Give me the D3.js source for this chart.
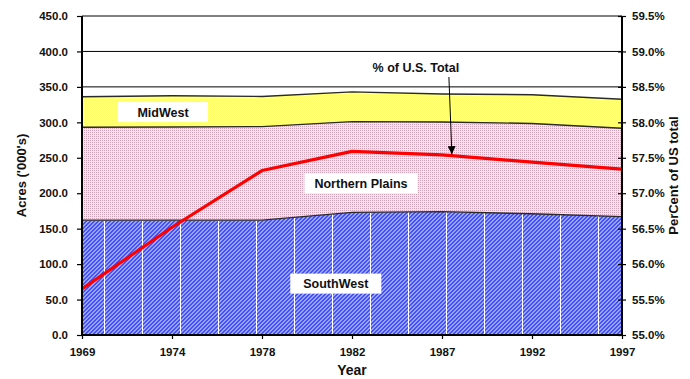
<!DOCTYPE html>
<html>
<head>
<meta charset="utf-8">
<script src="https://cdn.jsdelivr.net/npm/d3@7"></script>
<style>
  html, body { margin: 0; padding: 0; background: #fff; }
  svg { display: block; }
  text { font-family: Arial, "Liberation Sans", sans-serif; font-weight: bold; fill: #111; }
</style>
</head>
<body>
<script>
// Census years on the category axis
const years = ["1969", "1974", "1978", "1982", "1987", "1992", "1997"];
// Acres ('000's) by region, stacked bottom to top
const southWest      = [162, 162, 162, 173, 174, 171, 167];
const northernPlains = [131, 131.5, 132, 128, 126.5, 127.4, 124.6];
const midWest        = [43, 44, 42.5, 42, 39.5, 40.6, 40.9];
// Share of the U.S. total (%)
const pctOfUS = [55.65, 56.52, 57.32, 57.59, 57.54, 57.44, 57.34];
// Axis ticks
const acreTicks = [0, 50, 100, 150, 200, 250, 300, 350, 400, 450];
const pctTicks = [55.0, 55.5, 56.0, 56.5, 57.0, 57.5, 58.0, 58.5, 59.0, 59.5];

const W = 690, H = 379;
const m = { left: 82, right: 68, top: 16, bottom: 44 };
const iw = W - m.left - m.right, ih = H - m.top - m.bottom;

const svg = d3.select("body").append("svg").attr("width", W).attr("height", H);
const defs = svg.append("defs");

// Build a small pixel tile pattern: a base colour plus darker pixels
function pixelPattern(id, base, grid) {
  const h = grid.length, w = grid[0].length;
  const p = defs.append("pattern").attr("id", id).attr("patternUnits", "userSpaceOnUse")
    .attr("width", w).attr("height", h);
  p.append("rect").attr("width", w).attr("height", h).attr("fill", base);
  grid.forEach((row, yy) => row.forEach((c, xx) => {
    if (c) p.append("rect").attr("x", xx).attr("y", yy).attr("width", 1).attr("height", 1)
      .attr("fill", c).attr("shape-rendering", "crispEdges");
  }));
}
const B = "#4252f6";
pixelPattern("pBlue", "#9aa2ff", [
  [B, B, 0, 0],
  [B, 0, 0, B],
  [0, 0, B, B],
  [0, B, B, 0]
]);
const P = "#d0a4b8";
pixelPattern("pPink", "#f2e6ec", [
  [P, 0],
  [0, 0]
]);
const Y = "#ffff66";
pixelPattern("pYel", "#ffffcc", [
  [Y, 0],
  [0, Y]
]);
// Thin white vertical seams across the blue hatch
const pSeam = defs.append("pattern").attr("id", "pSeam").attr("patternUnits", "userSpaceOnUse")
  .attr("x", 98).attr("width", 38).attr("height", 10);
pSeam.append("rect").attr("x", 0).attr("width", 1).attr("height", 10).attr("fill", "#fff");

const g = svg.append("g").attr("transform", `translate(${m.left},${m.top})`);

const x = d3.scalePoint().domain(years).range([0, iw]);
const y = d3.scaleLinear().domain([0, 450]).range([ih, 0]);
const y2 = d3.scaleLinear().domain([55, 59.5]).range([ih, 0]);

// Horizontal gridlines
g.append("g").selectAll("line").data(acreTicks.filter(d => d > 0)).join("line")
  .attr("x1", 0).attr("x2", iw).attr("y1", d => y(d)).attr("y2", d => y(d))
  .attr("stroke", "#000").attr("stroke-width", 1);

// Stacked areas
const rows = years.map((yr, i) => ({ year: yr, sw: southWest[i], np: northernPlains[i], mw: midWest[i] }));
const stack = d3.stack().keys(["sw", "np", "mw"])(rows);
const area = d3.area().x(d => x(d.data.year)).y0(d => y(d[0])).y1(d => y(d[1]));
const line = d3.line().x(d => x(d.data.year)).y(d => y(d[1]));
const fills = { sw: "url(#pBlue)", np: "url(#pPink)", mw: "url(#pYel)" };

stack.forEach(s => {
  g.append("path").datum(s).attr("d", area).attr("fill", fills[s.key]);
  if (s.key === "sw") g.append("path").datum(s).attr("d", area).attr("fill", "url(#pSeam)");
});
stack.forEach(s => {
  g.append("path").datum(s).attr("d", line).attr("fill", "none")
    .attr("stroke", "#2a2a2a").attr("stroke-width", 1.4);
});

// Region labels in white boxes
function boxLabel(text, cx, cy, w) {
  g.append("rect").attr("x", cx - w / 2).attr("y", cy - 10).attr("width", w).attr("height", 20).attr("fill", "#fff");
  g.append("text").attr("x", cx).attr("y", cy + 4.5).attr("text-anchor", "middle")
    .attr("font-size", 12.5).text(text);
}
const xBetween = (a, b2, t) => x(years[a]) + (x(years[b2]) - x(years[a])) * t;
boxLabel("MidWest", xBetween(0, 1, 0.9), y(314.5), 90);
boxLabel("Northern Plains", xBetween(2, 3, 1.1), y(214), 113);
boxLabel("SouthWest", xBetween(2, 3, 0.82), y(72.5), 91);

// Percent-of-U.S. line on the right axis
const pctLine = d3.line().x((d, i) => x(years[i])).y(d => y2(d));
g.append("path").datum(pctOfUS).attr("d", pctLine).attr("fill", "none")
  .attr("stroke", "#ff0000").attr("stroke-width", 3.2).attr("stroke-linejoin", "round");

// Annotation with arrow to the percent line
defs.append("marker").attr("id", "arrow").attr("viewBox", "0 0 10 10").attr("refX", 10).attr("refY", 5)
  .attr("markerWidth", 8).attr("markerHeight", 8).attr("markerUnits", "userSpaceOnUse").attr("orient", "auto")
  .append("path").attr("d", "M0,0 L10,5 L0,10 Z").attr("fill", "#000");
const tipX = xBetween(4, 5, 0.11);
const tipY = y2(pctOfUS[4] + (pctOfUS[5] - pctOfUS[4]) * 0.11) - 1.5;
g.append("text").attr("x", tipX - 36).attr("y", 56).attr("text-anchor", "middle")
  .attr("font-size", 12.5).text("% of U.S. Total");
g.append("line").attr("x1", tipX - 3).attr("y1", 61).attr("x2", tipX).attr("y2", tipY)
  .attr("stroke", "#000").attr("stroke-width", 1).attr("marker-end", "url(#arrow)");

// Axes
const axL = g.append("g").call(d3.axisLeft(y).tickValues(acreTicks).tickFormat(d3.format(".1f")).tickSize(5).tickPadding(9));
const axR = g.append("g").attr("transform", `translate(${iw},0)`)
  .call(d3.axisRight(y2).tickValues(pctTicks).tickFormat(d => d.toFixed(1) + "%").tickSize(4).tickPadding(6));
axR.selectAll(".tick line").attr("x1", -4);
const axB = g.append("g").attr("transform", `translate(0,${ih})`)
  .call(d3.axisBottom(x).tickSize(4).tickPadding(9));
[axL, axR, axB].forEach(a => {
  a.select(".domain").attr("stroke", "#000").attr("stroke-width", 2);
  a.selectAll(".tick line").attr("stroke", "#000").attr("stroke-width", 1.2);
  a.selectAll("text").attr("font-size", 11.5).attr("font-family", "Arial, 'Liberation Sans', sans-serif")
    .attr("font-weight", "bold").attr("fill", "#111");
});
axL.select(".domain").attr("d", `M0,${ih}V0`);
axR.select(".domain").attr("d", `M0,${ih}V0`);
axB.select(".domain").attr("d", `M0,0H${iw}`);

// Axis titles
svg.append("text").attr("transform", `translate(26,${m.top + ih / 2}) rotate(-90)`)
  .attr("text-anchor", "middle").attr("font-size", 13).text("Acres ('000's)");
svg.append("text").attr("transform", `translate(678,${m.top + ih / 2}) rotate(-90)`)
  .attr("text-anchor", "middle").attr("font-size", 13).text("PerCent of US total");
svg.append("text").attr("x", m.left + x("1982")).attr("y", 375).attr("text-anchor", "middle")
  .attr("font-size", 14).text("Year");
</script>
</body>
</html>
